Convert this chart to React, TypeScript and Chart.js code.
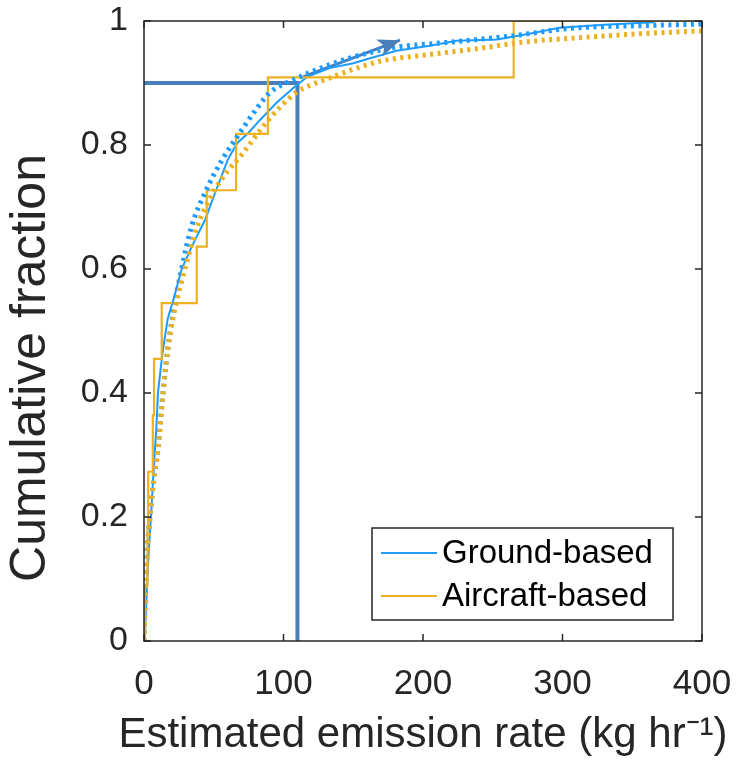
import React, { useEffect, useRef } from "react";
import { Chart, registerables } from "chart.js";

Chart.register(...registerables);

// Axis ticks
const xTicks = [0, 100, 200, 300, 400];
const yTicks = [0, 0.2, 0.4, 0.6, 0.8, 1];

// Ground-based empirical CDF (solid blue)
const groundX = [0.5, 2, 3.5, 5, 6.5, 7.9, 9, 10, 12, 13.6, 17, 21, 27, 33, 36.6, 43.7, 51, 60, 66.7, 74.6, 83, 95, 107, 117, 133, 150, 162, 181, 205, 224, 253, 277, 298, 330, 365, 366, 400];
const groundY = [0, 0.08, 0.15, 0.2, 0.26, 0.31, 0.35, 0.4, 0.44, 0.47, 0.52, 0.55, 0.6, 0.63, 0.647, 0.679, 0.723, 0.776, 0.803, 0.819, 0.84, 0.868, 0.892, 0.91, 0.924, 0.932, 0.94, 0.952, 0.96, 0.968, 0.97, 0.98, 0.989, 0.994, 0.998, 1, 1];

// Ground-based fitted CDF (dotted blue)
const groundFitX = [0, 1.4, 4.3, 7, 10, 13.6, 17, 21, 27, 34, 43.7, 56, 66.7, 78, 90, 110, 130, 150, 181, 205, 229, 264, 305, 365, 400];
const groundFitY = [0, 0.11, 0.2, 0.26, 0.31, 0.4, 0.47, 0.53, 0.6, 0.668, 0.723, 0.776, 0.813, 0.85, 0.884, 0.908, 0.927, 0.942, 0.958, 0.963, 0.968, 0.976, 0.988, 0.993, 0.995];

// Aircraft-based empirical CDF (orange steps)
const aircraftX = [0, 0.7, 2.5, 3, 6.3, 7.2, 12.7, 37.8, 45, 66, 88.8, 265, 400];
const aircraftY = [0, 0.091, 0.182, 0.273, 0.364, 0.455, 0.545, 0.636, 0.727, 0.818, 0.909, 1, 1];

// Aircraft-based fitted CDF (dotted orange)
const aircraftFitX = [0, 1.4, 4.3, 7, 10, 13.6, 17, 21, 27, 33, 38, 49.5, 60, 71, 85, 97.5, 110, 120, 133, 150, 169, 205, 241, 272, 318, 360, 400];
const aircraftFitY = [0, 0.11, 0.2, 0.26, 0.308, 0.4, 0.469, 0.523, 0.58, 0.63, 0.668, 0.723, 0.758, 0.787, 0.829, 0.861, 0.886, 0.897, 0.908, 0.922, 0.935, 0.946, 0.956, 0.966, 0.974, 0.98, 0.984];

// 90th percentile reference lines
const refX = [0, 110, 110];
const refY = [0.9, 0.9, 0];

// Arrow
const arrowX = [114, 183.5];
const arrowY = [0.91, 0.969];

const legendLabels = ["Ground-based", "Aircraft-based"];
const yTitle = "Cumulative fraction";
const xTitle = "Estimated emission rate (kg hr⁻¹)";

const BLUE = "#1e9bff";
const ORANGE = "#edb120";
const REF = "#4a7ebb";
const AXIS = "#262626";
const FONT = "'Liberation Sans', Arial, Helvetica, sans-serif";

const pts = (xs: number[], ys: number[]) => xs.map((x, i) => ({ x, y: ys[i] }));

const framePlugin = {
  id: "framePlugin",
  afterDatasetsDraw(chart: any) {
    const { ctx, chartArea, scales } = chart;
    const { left, right, top, bottom } = chartArea;
    const xs = scales.x;
    const ys = scales.y;
    ctx.save();

    // arrow head
    const ax0 = xs.getPixelForValue(arrowX[0]);
    const ay0 = ys.getPixelForValue(arrowY[0]);
    const ax1 = xs.getPixelForValue(arrowX[1]);
    const ay1 = ys.getPixelForValue(arrowY[1]);
    const ang = Math.atan2(ay1 - ay0, ax1 - ax0);
    const hl = 22;
    const hw = 9;
    ctx.fillStyle = REF;
    ctx.beginPath();
    ctx.moveTo(ax1, ay1);
    ctx.lineTo(ax1 - hl * Math.cos(ang) + hw * Math.sin(ang), ay1 - hl * Math.sin(ang) - hw * Math.cos(ang));
    ctx.lineTo(ax1 - hl * 0.75 * Math.cos(ang), ay1 - hl * 0.75 * Math.sin(ang));
    ctx.lineTo(ax1 - hl * Math.cos(ang) - hw * Math.sin(ang), ay1 - hl * Math.sin(ang) + hw * Math.cos(ang));
    ctx.closePath();
    ctx.fill();

    // frame
    ctx.strokeStyle = AXIS;
    ctx.lineWidth = 1.5;
    ctx.strokeRect(left, top, right - left, bottom - top);
    const tl = 7;
    ctx.beginPath();
    xTicks.forEach((v) => {
      const p = xs.getPixelForValue(v);
      ctx.moveTo(p, bottom);
      ctx.lineTo(p, bottom - tl);
      ctx.moveTo(p, top);
      ctx.lineTo(p, top + tl);
    });
    yTicks.forEach((v) => {
      const p = ys.getPixelForValue(v);
      ctx.moveTo(left, p);
      ctx.lineTo(left + tl, p);
      ctx.moveTo(right, p);
      ctx.lineTo(right - tl, p);
    });
    ctx.stroke();

    // legend box
    const bx0 = right - 330;
    const by0 = bottom - 113;
    const bw = 301;
    const bh = 92;
    ctx.fillStyle = "#ffffff";
    ctx.fillRect(bx0, by0, bw, bh);
    ctx.strokeStyle = AXIS;
    ctx.lineWidth = 1.5;
    ctx.strokeRect(bx0, by0, bw, bh);
    const colors = [BLUE, ORANGE];
    ctx.font = `33px ${FONT}`;
    ctx.textBaseline = "middle";
    ctx.textAlign = "left";
    legendLabels.forEach((lab, i) => {
      const yy = by0 + 25 + i * 43;
      ctx.strokeStyle = colors[i];
      ctx.lineWidth = 2;
      ctx.beginPath();
      ctx.moveTo(bx0 + 9, yy);
      ctx.lineTo(bx0 + 65, yy);
      ctx.stroke();
      ctx.fillStyle = "#000000";
      ctx.fillText(lab, bx0 + 70, yy + 1);
    });

    // y axis title
    ctx.save();
    ctx.translate(31, 368);
    ctx.rotate(-Math.PI / 2);
    ctx.font = `50px ${FONT}`;
    ctx.fillStyle = AXIS;
    ctx.textAlign = "center";
    ctx.textBaseline = "middle";
    ctx.fillText(yTitle, 0, 0);
    ctx.restore();

    // x axis title
    ctx.font = `42px ${FONT}`;
    ctx.fillStyle = AXIS;
    ctx.textAlign = "center";
    ctx.textBaseline = "middle";
    ctx.fillText(xTitle, (left + right) / 2, 735);

    ctx.restore();
  },
};

export default function App() {
  const ref = useRef<HTMLCanvasElement | null>(null);
  useEffect(() => {
    if (!ref.current) return;
    const chart = new Chart(ref.current, {
      type: "line",
      data: {
        datasets: [
          {
            label: "Aircraft fit",
            data: pts(aircraftFitX, aircraftFitY),
            borderColor: ORANGE,
            borderWidth: 5,
            borderDash: [3, 4.5],
            pointRadius: 0,
            cubicInterpolationMode: "monotone",
            fill: false,
          },
          {
            label: "Ground fit",
            data: pts(groundFitX, groundFitY),
            borderColor: BLUE,
            borderWidth: 5,
            borderDash: [3, 4.5],
            pointRadius: 0,
            cubicInterpolationMode: "monotone",
            fill: false,
          },
          {
            label: legendLabels[1],
            data: pts(aircraftX, aircraftY),
            borderColor: ORANGE,
            borderWidth: 2.2,
            pointRadius: 0,
            stepped: "before",
            fill: false,
          },
          {
            label: legendLabels[0],
            data: pts(groundX, groundY),
            borderColor: BLUE,
            borderWidth: 2,
            pointRadius: 0,
            tension: 0,
            fill: false,
          },
          {
            label: "90th percentile",
            data: pts(refX, refY),
            borderColor: REF,
            borderWidth: 4,
            pointRadius: 0,
            fill: false,
          },
          {
            label: "arrow",
            data: pts(arrowX, arrowY),
            borderColor: REF,
            borderWidth: 3,
            pointRadius: 0,
            fill: false,
          },
        ],
      },
      options: {
        animation: false,
        responsive: true,
        maintainAspectRatio: false,
        layout: { padding: { top: 21, right: 36, left: 0, bottom: 0 } },
        plugins: {
          legend: { display: false },
          tooltip: { enabled: false },
        },
        scales: {
          x: {
            type: "linear",
            min: 0,
            max: 400,
            afterBuildTicks: (s: any) => {
              s.ticks = xTicks.map((v) => ({ value: v }));
            },
            afterFit: (s: any) => {
              s.height = 120;
              s.paddingLeft = 0;
              s.paddingRight = 0;
              s.paddingTop = 0;
              s.paddingBottom = 0;
            },
            grid: { display: false, drawTicks: false },
            border: { display: false },
            ticks: {
              color: AXIS,
              padding: 22,
              maxRotation: 0,
              font: { family: FONT, size: 35 },
              callback: (v: any) => String(v),
            },
            title: { display: false },
          },
          y: {
            type: "linear",
            min: 0,
            max: 1,
            afterBuildTicks: (s: any) => {
              s.ticks = yTicks.map((v) => ({ value: v }));
            },
            afterFit: (s: any) => {
              s.width = 144;
              s.paddingLeft = 0;
              s.paddingRight = 0;
              s.paddingTop = 0;
              s.paddingBottom = 0;
            },
            grid: { display: false, drawTicks: false },
            border: { display: false },
            ticks: {
              color: AXIS,
              padding: 16,
              font: { family: FONT, size: 34 },
              callback: (v: any) => String(v),
            },
            title: { display: false },
          },
        },
      },
      plugins: [framePlugin],
    } as any);
    return () => chart.destroy();
  }, []);

  return (
    <div style={{ position: "fixed", left: 0, top: 0, width: 738, height: 761, background: "#fff" }}>
      <canvas ref={ref} />
    </div>
  );
}
